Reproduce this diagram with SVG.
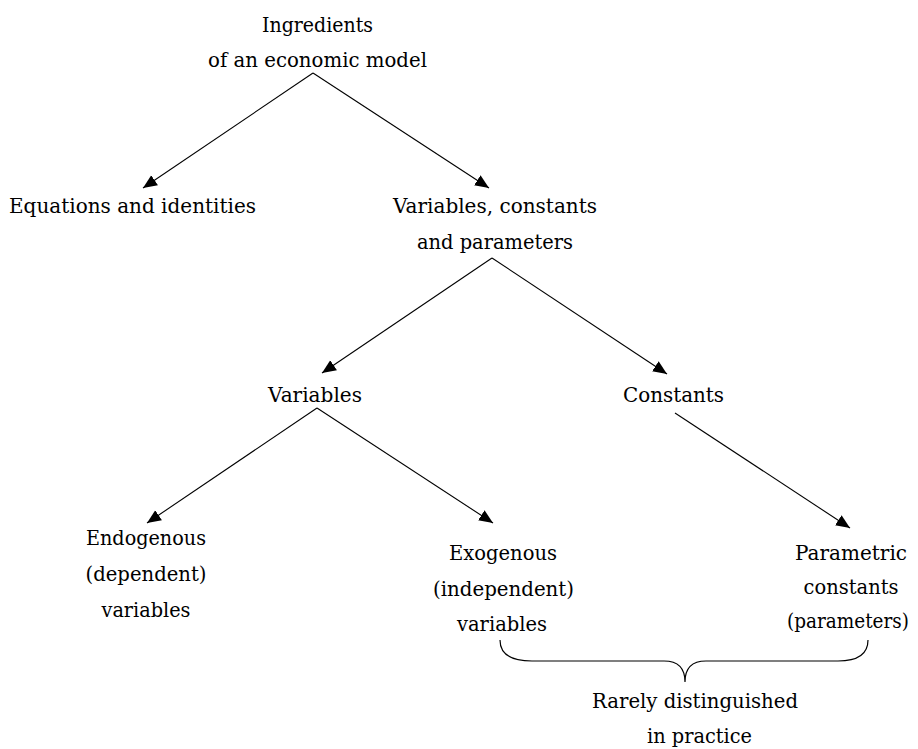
<svg xmlns="http://www.w3.org/2000/svg" width="918" height="749" viewBox="0 0 918 749">
<style>
text{font-family:"DejaVu Serif",serif;font-size:20.5px;fill:#000;text-anchor:middle}
.edge{stroke:#000;stroke-width:1.1;fill:none;marker-end:url(#arr)}
.brace{stroke:#000;stroke-width:1.2;fill:none}
</style>
<defs>
<marker id="arr" markerUnits="userSpaceOnUse" markerWidth="16" markerHeight="14" refX="14" refY="6.5" orient="auto">
<path d="M0,0.5 L14,6.5 L0,12.5 z" fill="#000"/>
</marker>
</defs>
<rect width="918" height="749" fill="#fff"/>
<g id="connectors">
<line class="edge" x1="313" y1="73" x2="143" y2="188"/>
<line class="edge" x1="313" y1="73" x2="489" y2="188"/>
<line class="edge" x1="492" y1="258" x2="322" y2="373"/>
<line class="edge" x1="492" y1="258" x2="667" y2="374"/>
<line class="edge" x1="317" y1="408" x2="147" y2="523"/>
<line class="edge" x1="317" y1="408" x2="493" y2="523"/>
<line class="edge" x1="675" y1="413" x2="850" y2="528"/>
</g>
<g id="brace">
<path class="brace" d="M500,640 C500,654 510,661 532,661 L664,661 C678,661 685,668 685,682 C685,668 692,661 706,661 L838,661 C858,661 868,654 868,640"/>
</g>
<g id="node-root">
<text x="317.5" y="32" textLength="111" lengthAdjust="spacingAndGlyphs">Ingredients</text>
<text x="317.5" y="67" textLength="219" lengthAdjust="spacingAndGlyphs">of an economic model</text>
</g>
<g id="node-equations">
<text x="132.5" y="213" textLength="247" lengthAdjust="spacingAndGlyphs">Equations and identities</text>
</g>
<g id="node-vcp">
<text x="495" y="213" textLength="204" lengthAdjust="spacingAndGlyphs">Variables, constants</text>
<text x="495" y="249" textLength="156" lengthAdjust="spacingAndGlyphs">and parameters</text>
</g>
<g id="node-variables">
<text x="315" y="402" textLength="94" lengthAdjust="spacingAndGlyphs">Variables</text>
</g>
<g id="node-constants">
<text x="673.5" y="402" textLength="101" lengthAdjust="spacingAndGlyphs">Constants</text>
</g>
<g id="node-endogenous">
<text x="146" y="545" textLength="120" lengthAdjust="spacingAndGlyphs">Endogenous</text>
<text x="146" y="581" textLength="121" lengthAdjust="spacingAndGlyphs">(dependent)</text>
<text x="146" y="617" textLength="89" lengthAdjust="spacingAndGlyphs">variables</text>
</g>
<g id="node-exogenous">
<text x="503" y="560" textLength="108" lengthAdjust="spacingAndGlyphs">Exogenous</text>
<text x="503.5" y="596" textLength="141" lengthAdjust="spacingAndGlyphs">(independent)</text>
<text x="502" y="631" textLength="90" lengthAdjust="spacingAndGlyphs">variables</text>
</g>
<g id="node-parametric">
<text x="851" y="560" textLength="112" lengthAdjust="spacingAndGlyphs">Parametric</text>
<text x="851" y="594" textLength="95" lengthAdjust="spacingAndGlyphs">constants</text>
<text x="848" y="628" font-size="18.5" textLength="122" lengthAdjust="spacingAndGlyphs">(parameters)</text>
</g>
<g id="node-rarely">
<text x="695" y="708" textLength="206" lengthAdjust="spacingAndGlyphs">Rarely distinguished</text>
<text x="699.5" y="743" textLength="105" lengthAdjust="spacingAndGlyphs">in practice</text>
</g>
</svg>
